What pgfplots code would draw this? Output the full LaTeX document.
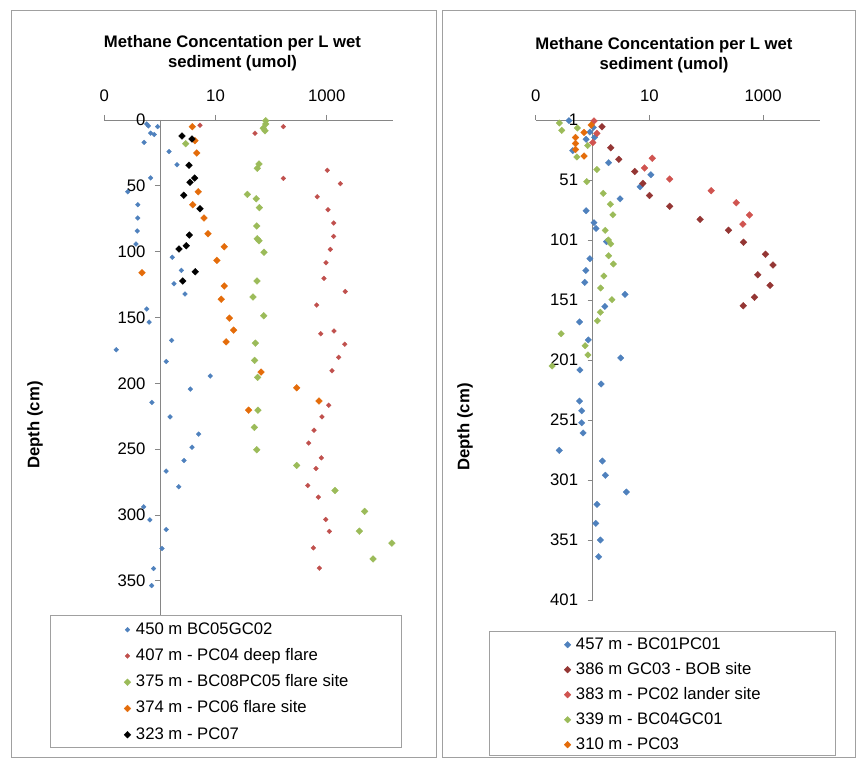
\documentclass[border=0pt]{standalone}
\usepackage{pgfplots}
\pgfplotsset{compat=1.18}
\usepackage{fontspec}
\setmainfont{Liberation Sans}
\definecolor{cblue}{HTML}{4F81BD}
\definecolor{cred}{HTML}{C0504D}
\definecolor{cgreen}{HTML}{9BBB59}
\definecolor{corange}{HTML}{E46C0A}
\definecolor{cdred}{HTML}{943634}
\definecolor{clred}{HTML}{D05450}
\definecolor{axgray}{HTML}{868686}
\definecolor{boxgray}{HTML}{A0A0A0}
\pgfplotsset{
  mymk/.style 2 args={only marks, mark=square*, mark size=#2,
    mark options={rotate=45, draw=#1, fill=#1, line width=0.3pt}, color=#1,
    legend image code/.code={\draw[mark repeat=2,mark phase=2,##1] plot coordinates {(0pt,0pt)(4pt,0pt)(8pt,0pt)};}},
}
\begin{document}
\begin{tikzpicture}
\useasboundingbox (0pt,0pt) rectangle (857pt,758pt);
\draw[boxgray, line width=0.8pt] (11pt,1pt) rectangle (436.7pt,748pt);
\draw[boxgray, line width=0.8pt] (442.3pt,1pt) rectangle (855.5pt,748pt);
\draw[boxgray, line width=0.8pt] (50pt,143pt) rectangle (401pt,11pt);
\draw[boxgray, line width=0.8pt] (489pt,127pt) rectangle (835pt,3pt);

\begin{axis}[
  scale only axis,
  xmode=log, log basis x=10,
  y dir=reverse,
  axis x line=top, axis y line=middle,
  hide obscured x ticks=false, hide obscured y ticks=false,
  axis line style={-, draw=axgray, line width=0.8pt},
  tick style={draw=axgray, line width=0.8pt},
  tick align=outside, major tick length=5pt,
  xminorticks=false,
  xtick={0.1,10,1000}, xticklabels={0,10,1000},
  /pgf/number format/assume math mode=true,
  tick label style={font=\fontsize{16.7}{20}\selectfont, text=black},
  xticklabel style={yshift=10pt},
  yticklabel style={xshift=-6pt},
  clip=false,
  legend cell align=left,
  legend style={draw=none, fill=none, inner sep=0pt, column sep=5pt,
    nodes={inner sep=0pt, text height=12pt, text depth=3pt},
    font=\fontsize{16.7}{20}\selectfont, anchor=north west,
    at={(0.0682,-0.0142)}, row sep=11.25pt},
  at={(104.3pt,143pt)}, anchor=south west,
  width=288.7pt, height=495pt,
  xmin=0.1, xmax=15560, ymin=0, ymax=376,
  ytick={0,50,...,350},
]
\addplot[mymk={cblue}{1.7pt}] coordinates {
(0.58,3) (0.62,4.5) (0.91,5) (0.68,10) (0.79,11) (0.52,17) (1.46,24) (2.03,34) (0.68,44)
(0.264,54.5) (0.40,64.3) (0.40,74.5) (0.39,84.3) (0.37,94.2) (1.67,104.3) (2.43,114.2)
(1.79,124.4) (2.83,132.2) (0.58,143.6) (0.64,153.5) (1.63,167.4) (0.164,174.5) (1.30,183.4)
(8.05,194.5) (3.52,204.4) (0.72,214.5) (1.52,225.5) (4.99,238.6) (3.78,248.5) (2.71,258.6)
(1.29,266.7) (2.18,278.6) (0.51,293.8) (0.66,303.7) (1.30,311) (1.09,325.5) (0.77,340.7) (0.71,353.6)};
\addlegendentry{450 m BC05GC02}
\addplot[mymk={cred}{1.7pt}] coordinates {
(5.26,4) (51.3,10) (166,5) (166,44.3) (1026,38.2) (1760,48.4) (678,58.3) (1055,68.2)
(1336,78.3) (1336,88.4) (1160,98.3) (971,108.4) (893,120.3) (2160,130.3) (661,140.6)
(780,162.4) (1352,160.3) (2110,170.4) (1644,180.3) (1245,190.5) (1087,216.6) (822,225.5)
(591,235.6) (474,245.4) (800,256.6) (643,264.7) (455,277.6) (706,286.5) (959,303.4)
(1114,312.5) (575,325) (736,340.4)};
\addlegendentry{407 m - PC04 deep flare}
\addplot[mymk={cgreen}{2.4pt}] coordinates {
(80,0.5) (80,3) (72.4,6.3) (77.6,8.1) (2.91,18) (60.6,33.4) (56.5,36.7) (37.3,56.5)
(54.2,59.8) (61.4,66.6) (55.1,80.5) (56.5,90.2) (60.6,91.7) (74.5,100.5) (55.7,122.3)
(47.2,134.5) (73.6,148.7) (52,169.5) (50.7,182.6) (57.4,195.5) (58,220.4) (49.9,233.5)
(55.1,250.5) (288,262.4) (1409,281.4) (4820,297.3) (3855,312.3) (14900,321.4) (6810,333.4)};
\addlegendentry{375 m - BC08PC05 flare site}
\addplot[mymk={corange}{2.4pt}] coordinates {
(3.83,5.1) (4.27,15.7) (4.59,25.1) (4.91,54.5) (3.89,64.4) (6.21,74.5) (7.33,86.4)
(14.4,96.3) (10.6,106.6) (0.476,116) (14.4,126.1) (12.7,136.2) (17.7,150.5) (21.2,159.6)
(15.5,168.5) (65.8,191.5) (288,203.4) (727,213.5) (39.5,220.4)};
\addlegendentry{374 m - PC06 flare site}
\addplot[mymk={black}{2.4pt}] coordinates {
(2.50,12.2) (3.78,14.4) (3.33,34.4) (4.22,44.1) (3.47,47.3) (2.68,57.2) (5.26,67.4)
(3.38,87.4) (2.98,95.5) (2.21,98) (4.33,115.3) (2.57,122.3)};
\addlegendentry{323 m - PC07}
\end{axis}

\begin{axis}[
  scale only axis,
  xmode=log, log basis x=10,
  y dir=reverse,
  axis x line=top, axis y line=middle,
  hide obscured x ticks=false, hide obscured y ticks=false,
  axis line style={-, draw=axgray, line width=0.8pt},
  tick style={draw=axgray, line width=0.8pt},
  tick align=outside, major tick length=5pt,
  xminorticks=false,
  xtick={0.1,10,1000}, xticklabels={0,10,1000},
  /pgf/number format/assume math mode=true,
  tick label style={font=\fontsize{16.7}{20}\selectfont, text=black},
  xticklabel style={yshift=10pt},
  yticklabel style={xshift=-6pt},
  clip=false,
  legend cell align=left,
  legend style={draw=none, fill=none, inner sep=0pt, column sep=5pt,
    nodes={inner sep=0pt, text height=12pt, text depth=3pt},
    font=\fontsize{16.7}{20}\selectfont, anchor=north west,
    at={(0.0995,-0.0771)}, row sep=10pt},
  at={(535.7pt,158pt)}, anchor=south west,
  width=284.3pt, height=480pt,
  xmin=0.1, xmax=10000, ymin=1, ymax=401,
  ytick={1,51,...,401},
]
\addplot[mymk={cblue}{2.3pt}] coordinates {
(0.385,1.6) (1.03,7.1) (0.90,11) (1.09,15.4) (0.77,17.1) (0.448,26.6) (1.91,36.6) (10.6,46.6)
(6.86,56.6) (3.05,66.7) (0.77,76.6) (1.06,86.6) (1.15,91.4) (1.76,102.4) (0.90,116.6)
(0.76,126.4) (0.73,136.3) (3.73,146.3) (1.64,156.4) (0.59,169.3) (0.84,184.3) (3.13,199.3)
(0.60,209.3) (1.41,221) (0.59,235.2) (0.645,243.3) (0.645,253.3) (0.68,261.8) (0.26,276.3)
(1.49,285.2) (1.68,297.1) (3.94,311) (1.20,321.3) (1.14,337.1) (1.37,351) (1.28,364.9)};
\addlegendentry{457 m - BC01PC01}
\addplot[mymk={cdred}{2.4pt}] coordinates {
(1.47,6.6) (2.09,24.1) (2.89,33.8) (5.53,43.9) (7.65,53.8) (10.0,63.9) (22.7,72.9)
(78.2,83.8) (246,92.9) (452,102.9) (1103,112.9) (1493,121.8) (803,129.9) (1321,138.8)
(703,148.7) (447,155.8)};
\addlegendentry{386 m GC03 - BOB site}
\addplot[mymk={clred}{2.4pt}] coordinates {
(1.06,1.8) (1.19,12.1) (1.01,19.8) (11.2,32.9) (8.17,41) (22.7,50.2) (122,59.9)
(336,70) (577,80.2) (441,87.8)};
\addlegendentry{383 m - PC02 lander site}
\addplot[mymk={cgreen}{2.3pt}] coordinates {
(0.26,3.5) (0.287,9.6) (0.54,7.7) (0.82,22.3) (0.53,31.8) (1.19,42.3) (0.79,52.3)
(1.54,62.1) (2.06,71.2) (2.28,80) (1.67,92.9) (1.90,101) (2.09,104.3) (1.92,114.1)
(2.32,121) (1.58,131) (1.39,141) (2.19,150.7) (1.37,161.2) (1.22,168.3) (0.28,179.1)
(0.74,189.1) (0.83,196.8) (0.194,206)};
\addlegendentry{339 m - BC04GC01}
\addplot[mymk={corange}{2.4pt}] coordinates {
(0.95,5.2) (0.71,11.4) (0.50,15.6) (0.50,20.6) (0.50,25.6) (0.71,31)};
\addlegendentry{310 m - PC03}
\end{axis}

\node[font=\bfseries\fontsize{16.7}{19.5}\selectfont, align=center] at (232.5pt,705pt) {Methane Concentation per L wet\\sediment (umol)};
\node[font=\bfseries\fontsize{16.7}{19.5}\selectfont, align=center] at (664pt,703pt) {Methane Concentation per L wet\\sediment (umol)};
\node[font=\bfseries\fontsize{16.7}{20}\selectfont, rotate=90] at (35pt,333pt) {Depth (cm)};
\node[font=\bfseries\fontsize{16.7}{20}\selectfont, rotate=90] at (465pt,331pt) {Depth (cm)};
\end{tikzpicture}
\end{document}
